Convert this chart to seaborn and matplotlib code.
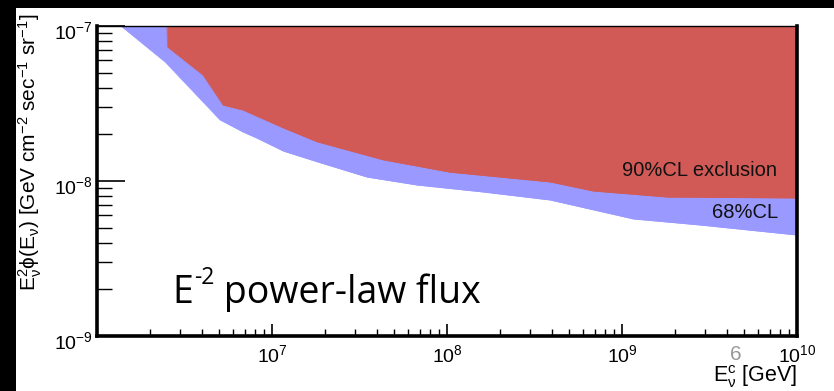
import numpy as np
import pandas as pd
import matplotlib
matplotlib.use("Agg")
import matplotlib.pyplot as plt
import seaborn as sns
from matplotlib.patches import Rectangle
from matplotlib.transforms import ScaledTranslation

# ---- data ----
band68_energy = [1.37e6, 2.45e6, 5.04e6, 6.83e6, 8.2e6, 1.16e7, 1.81e7, 3.49e7,
                 6.74e7, 1.61e8, 3.88e8, 1.16e9, 2.79e9, 1.0e10]
band68_lower = [1.0e-7, 5.86e-8, 2.48e-8, 2.07e-8, 1.89e-8, 1.56e-8, 1.33e-8, 1.06e-8,
                9.42e-9, 8.49e-9, 7.54e-9, 5.69e-9, 5.2e-9, 4.48e-9]
excl90_energy = [2.51e6, 2.53e6, 4.03e6, 5.25e6, 6.83e6, 1.16e7, 1.81e7, 4.31e7,
                 1.04e8, 3.88e8, 6.83e8, 1.81e9, 1.0e10]
excl90_lower = [1.0e-7, 7.32e-8, 4.83e-8, 3.09e-8, 2.87e-8, 2.2e-8, 1.79e-8, 1.37e-8,
                1.14e-8, 9.86e-9, 8.62e-9, 7.88e-9, 7.77e-9]
x_ticks = [1e7, 1e8, 1e9, 1e10]
x_tick_labels = [r"$\mathregular{10^{7}}$", r"$\mathregular{10^{8}}$",
                 r"$\mathregular{10^{9}}$", r"$\mathregular{10^{10}}$"]
y_ticks = [1e-9, 1e-8, 1e-7]
y_tick_labels = [r"$\mathregular{10^{-9}}$", r"$\mathregular{10^{-8}}$", r"$\mathregular{10^{-7}}$"]

df68 = pd.DataFrame({"E": band68_energy, "flux": band68_lower})
df90 = pd.DataFrame({"E": excl90_energy, "flux": excl90_lower})

sns.set_theme(style="white")
plt.rcParams["font.family"] = ["Liberation Sans", "DejaVu Sans"]
plt.rcParams["mathtext.fontset"] = "custom"
plt.rcParams["mathtext.rm"] = "Liberation Sans"
plt.rcParams["mathtext.it"] = "Liberation Sans"
plt.rcParams["mathtext.bf"] = "Liberation Sans:bold"
plt.rcParams["mathtext.sf"] = "Liberation Sans"

W, H = 834, 391
fig = plt.figure(figsize=(W / 100, H / 100), dpi=100, facecolor="black")
fig.patches.append(Rectangle((16 / W, 0), 1 - 16 / W, 1 - 8 / H, transform=fig.transFigure,
                             facecolor="white", edgecolor="none", zorder=-10))

L, R, T, B = 97, 797, 26, 336
ax = fig.add_axes([L / W, 1 - B / H, (R - L) / W, (B - T) / H])
ax.set_facecolor("white")
ax.set_xscale("log")
ax.set_yscale("log")
ax.set_xlim(1e6, 1e10)
ax.set_ylim(1e-9, 1e-7)

blue = "#9999FF"
red = "#D25A56"
sns.lineplot(data=df68, x="E", y="flux", ax=ax, color=blue, linewidth=0.5, estimator=None, sort=False)
sns.lineplot(data=df90, x="E", y="flux", ax=ax, color=red, linewidth=0.5, estimator=None, sort=False)
ax.fill_between(df68["E"], df68["flux"], 1e-7, color=blue, linewidth=0, zorder=1)
ax.fill_between(df90["E"], df90["flux"], 1e-7, color=red, linewidth=0, zorder=2)
ax.set_xlabel("")
ax.set_ylabel("")

for side, lw in [("left", 2.6), ("bottom", 2.6), ("right", 2.6), ("top", 1.0)]:
    ax.spines[side].set_visible(True)
    ax.spines[side].set_color("black")
    ax.spines[side].set_linewidth(lw)
    ax.spines[side].set_zorder(5)

ax.set_xticks(x_ticks)
ax.set_xticklabels(x_tick_labels, fontsize=14)
ax.set_yticks(y_ticks)
ax.set_yticklabels(y_tick_labels, fontsize=14)
ax.xaxis.set_minor_locator(matplotlib.ticker.LogLocator(base=10, subs=np.arange(2, 10)))
ax.yaxis.set_minor_locator(matplotlib.ticker.LogLocator(base=10, subs=np.arange(2, 10)))
ax.xaxis.set_minor_formatter(matplotlib.ticker.NullFormatter())
ax.yaxis.set_minor_formatter(matplotlib.ticker.NullFormatter())
ax.tick_params(axis="x", which="major", direction="in", length=9, width=1.2, color="black",
               pad=6, bottom=True, top=False, labelcolor="black")
ax.tick_params(axis="x", which="minor", direction="in", length=5, width=1.0, color="black",
               bottom=True, top=False)
ax.tick_params(axis="y", which="major", direction="in", length=20, width=1.2, color="black",
               pad=3, left=True, right=False, labelcolor="black")
ax.tick_params(axis="y", which="minor", direction="in", length=11, width=1.0, color="black",
               left=True, right=False)
for lab in ax.get_yticklabels():
    lab.set_transform(lab.get_transform() + ScaledTranslation(0, -4 / 100, fig.dpi_scale_trans))
ax.grid(False)

ax.text(0.972, 0.535, "90%CL exclusion", transform=ax.transAxes, ha="right", va="center",
        fontsize=14.5, color="#111111", zorder=6)
ax.text(0.973, 0.397, "68%CL", transform=ax.transAxes, ha="right", va="center",
        fontsize=14.5, color="#111111", zorder=6)

# "E^-2 power-law flux" annotation, assembled piece by piece on a common baseline
big = dict(family=["Open Sans", "DejaVu Sans"], color="black")
renderer = fig.canvas.get_renderer()
base_y = 1 - 303 / H
t1 = fig.text(172 / W, base_y, "E", ha="left", va="baseline", fontsize=27, **big)
x1 = t1.get_window_extent(renderer).x1 / W
t2 = fig.text(x1 + 1 / W, base_y + 19 / H, "-2", ha="left", va="baseline", fontsize=16.5, **big)
x2 = t2.get_window_extent(renderer).x1 / W
fig.text(x2, base_y, " power-law flux", ha="left", va="baseline", fontsize=27, **big)

fig.text(30 / W, 1 - 152 / H,
         r"$\mathregular{E_{\nu}^{2}\phi(E_{\nu})}$ [GeV cm$^{\mathregular{-2}}$ sec$^{\mathregular{-1}}$ sr$^{\mathregular{-1}}$]",
         rotation=90, ha="center", va="center", fontsize=15, color="black")
fig.text(797 / W, 1 - 377 / H, r"$\mathregular{E_{\nu}^{c}}$ [GeV]", ha="right", va="center",
         fontsize=15.5, color="black")
fig.text(736 / W, 1 - 354 / H, "6", ha="center", va="center", fontsize=15,
         color="#9a9a9a")

fig.savefig("out.png", dpi=100, facecolor="black")
